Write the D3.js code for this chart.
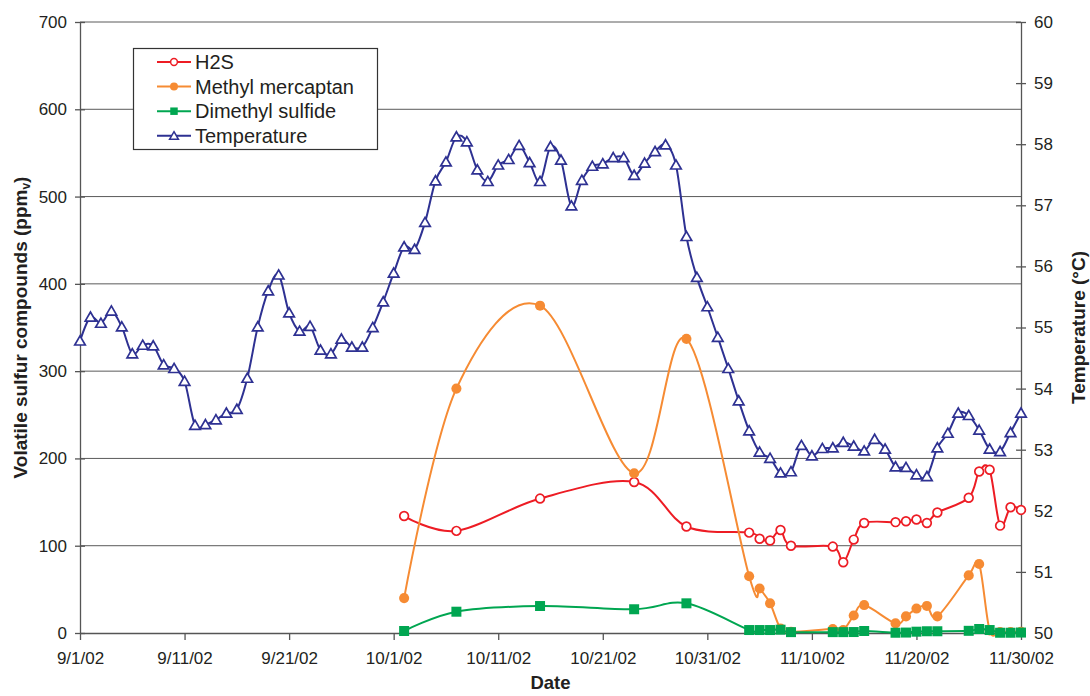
<!DOCTYPE html>
<html>
<head>
<meta charset="utf-8">
<script src="https://cdn.jsdelivr.net/npm/d3@7"></script>
<style>
  body { margin: 0; background: #fff; }
  svg { font-family: "Liberation Sans", Arial, Helvetica, sans-serif; }
</style>
</head>
<body>
<svg id="chart" width="1090" height="696"></svg>
<script>
// daily temperature readings, 9/1/02 .. 11/30/02 (°C)
const tempValues = [
  54.78, 55.17, 55.07, 55.27, 55.01, 54.57, 54.71, 54.70, 54.39, 54.33,
  54.12, 53.40, 53.41, 53.49, 53.60, 53.66, 54.17, 55.01, 55.60, 55.86,
  55.24, 54.94, 55.02, 54.63, 54.57, 54.81, 54.68, 54.68, 55.00, 55.42,
  55.89, 56.32, 56.28, 56.72, 57.40, 57.71, 58.12, 58.04, 57.58, 57.39,
  57.66, 57.75, 57.98, 57.70, 57.39, 57.96, 57.74, 56.99, 57.41, 57.64,
  57.68, 57.78, 57.78, 57.49, 57.69, 57.88, 57.99, 57.66, 56.49, 55.82,
  55.34, 54.84, 54.33, 53.80, 53.31, 52.96, 52.86, 52.62, 52.64, 53.07,
  52.90, 53.02, 53.03, 53.12, 53.06, 52.98, 53.17, 53.01, 52.72, 52.71,
  52.59, 52.56, 53.03, 53.27, 53.60, 53.56, 53.32, 53.01, 52.97, 53.28,
  53.60
];

// sampling dates for the sulfur compounds
const sampleDates = [
  "10/2/02", "10/7/02", "10/15/02", "10/24/02", "10/29/02",
  "11/4/02", "11/5/02", "11/6/02", "11/7/02", "11/8/02",
  "11/12/02", "11/13/02", "11/14/02", "11/15/02",
  "11/18/02", "11/19/02", "11/20/02", "11/21/02", "11/22/02",
  "11/25/02", "11/26/02", "11/27/02", "11/28/02", "11/29/02", "11/30/02"
];
const h2s = [
  134, 117, 154, 173, 122,
  115, 108, 106, 118, 100,
  99, 81, 107, 126,
  127, 128, 130, 126, 138,
  155, 185, 187, 123, 144, 141
];
const methylMercaptan = [
  40, 280, 375, 183, 337,
  65, 51, 34, 5, 1.5,
  4.6, 3.4, 20, 32,
  11, 19, 28, 31, 19,
  66, 79, 3, 1, 1, 1.5
];
const dimethylSulfide = [
  2.3, 24.4, 30.9, 27.2, 34,
  3.4, 3.4, 3.4, 3.8, 1,
  1, 1, 1.1, 2.3,
  0.3, 0.5, 1.5, 2, 2,
  2.5, 4.6, 3.4, 0.3, 0.3, 0.5
];

const xTickLabels = ["9/1/02", "9/11/02", "9/21/02", "10/1/02", "10/11/02",
  "10/21/02", "10/31/02", "11/10/02", "11/20/02", "11/30/02"];
const leftTicks = [0, 100, 200, 300, 400, 500, 600, 700];
const rightTicks = [50, 51, 52, 53, 54, 55, 56, 57, 58, 59, 60];

const parseDate = d3.timeParse("%-m/%-d/%y");
const tempDates = d3.timeDay.range(new Date(2002, 8, 1), new Date(2002, 11, 1));

const plotLeft = 80, plotRight = 1021, plotTop = 22, plotBottom = 633;
const textColor = "#231f20";
const axisColor = "#555";

const svg = d3.select("#chart");

const xScale = d3.scaleTime()
  .domain([new Date(2002, 8, 1), new Date(2002, 10, 30)])
  .range([plotLeft, plotRight]);
const yLeft = d3.scaleLinear().domain([0, 700]).range([plotBottom, plotTop]);
const yRight = d3.scaleLinear().domain([50, 60]).range([plotBottom, plotTop]);

// gridlines
svg.append("g")
  .selectAll("line")
  .data(leftTicks.slice(1))
  .join("line")
  .attr("x1", plotLeft).attr("x2", plotRight)
  .attr("y1", d => yLeft(d)).attr("y2", d => yLeft(d))
  .attr("stroke", "#5a5a5a")
  .attr("stroke-width", 1);

// axes
function styleAxis(g) {
  g.select(".domain").attr("stroke", axisColor).attr("stroke-width", 1.3);
  g.selectAll(".tick line").attr("stroke", axisColor).attr("stroke-width", 1.3);
  g.selectAll(".tick text")
    .attr("fill", textColor)
    .attr("font-size", 17)
    .attr("font-family", "\"Liberation Sans\", Arial, sans-serif");
}

svg.append("g")
  .attr("transform", `translate(${plotLeft},0)`)
  .call(d3.axisLeft(yLeft).tickValues(leftTicks).tickSize(5).tickSizeOuter(0).tickPadding(8))
  .call(styleAxis)
  .call(g => g.selectAll(".tick line").attr("x1", 5));

svg.append("g")
  .attr("transform", `translate(${plotRight},0)`)
  .call(d3.axisRight(yRight).tickValues(rightTicks).tickSize(5).tickSizeOuter(0).tickPadding(8))
  .call(styleAxis)
  .call(g => g.selectAll(".tick line").attr("x1", -5));

svg.append("g")
  .attr("transform", `translate(0,${plotBottom})`)
  .call(d3.axisBottom(xScale)
    .tickValues(xTickLabels.map(parseDate))
    .tickFormat(d3.timeFormat("%-m/%-d/%y"))
    .tickSize(7).tickSizeOuter(0).tickPadding(12))
  .call(styleAxis);

// axis titles
const leftTitle = svg.append("text")
  .attr("transform", `translate(20,${(plotTop + plotBottom) / 2}) rotate(-90)`)
  .attr("text-anchor", "middle")
  .attr("dy", "0.35em")
  .attr("font-size", 19)
  .attr("font-weight", "bold")
  .attr("fill", textColor);
leftTitle.append("tspan").text("Volatile sulfur compounds (ppm");
leftTitle.append("tspan").attr("font-size", 12).attr("dy", 3).text("v");
leftTitle.append("tspan").attr("dy", -3).text(")");

svg.append("text")
  .attr("transform", `translate(1078,${(plotTop + plotBottom) / 2}) rotate(-90)`)
  .attr("text-anchor", "middle")
  .attr("dy", "0.35em")
  .attr("font-size", 19)
  .attr("font-weight", "bold")
  .attr("fill", textColor)
  .text("Temperature (°C)");

svg.append("text")
  .attr("x", (plotLeft + plotRight) / 2)
  .attr("y", 689)
  .attr("text-anchor", "middle")
  .attr("font-size", 18.5)
  .attr("font-weight", "bold")
  .attr("fill", textColor)
  .text("Date");

// series
const colors = { h2s: "#ed1c24", mm: "#f68b33", dms: "#00a651", temp: "#2e3192" };
const curve = d3.curveCardinal.tension(0);
const samples = sampleDates.map(parseDate);

function drawLine(dates, values, yScale, color) {
  const line = d3.line()
    .x((d, i) => xScale(dates[i]))
    .y(d => yScale(d))
    .curve(curve);
  svg.append("path")
    .attr("d", line(values))
    .attr("fill", "none")
    .attr("stroke", color)
    .attr("stroke-width", 2);
}

function drawMarkers(dates, values, yScale, type, color) {
  const g = svg.append("g");
  const sym = {
    circleOpen: d3.symbol(d3.symbolCircle, 60),
    circle: d3.symbol(d3.symbolCircle, 80),
    square: d3.symbol(d3.symbolSquare, 100),
    triangle: d3.symbol(d3.symbolTriangle, 48)
  }[type];
  const open = type === "circleOpen" || type === "triangle";
  g.selectAll("path")
    .data(values)
    .join("path")
    .attr("d", sym)
    .attr("transform", (d, i) => `translate(${xScale(dates[i])},${yScale(d) + (type === "triangle" ? 1 : 0)})`)
    .attr("fill", open ? "#fff" : color)
    .attr("stroke", color)
    .attr("stroke-width", open ? 1.7 : 0);
}

drawLine(samples, h2s, yLeft, colors.h2s);
drawMarkers(samples, h2s, yLeft, "circleOpen", colors.h2s);
drawLine(samples, methylMercaptan, yLeft, colors.mm);
drawMarkers(samples, methylMercaptan, yLeft, "circle", colors.mm);
drawLine(samples, dimethylSulfide, yLeft, colors.dms);
drawMarkers(samples, dimethylSulfide, yLeft, "square", colors.dms);
drawLine(tempDates, tempValues, yRight, colors.temp);
drawMarkers(tempDates, tempValues, yRight, "triangle", colors.temp);

// legend
const legendItems = [
  { name: "H2S", color: colors.h2s, type: "circleOpen" },
  { name: "Methyl mercaptan", color: colors.mm, type: "circle" },
  { name: "Dimethyl sulfide", color: colors.dms, type: "square" },
  { name: "Temperature", color: colors.temp, type: "triangle" }
];
const legend = svg.append("g");
legend.append("rect")
  .attr("x", 133.5).attr("y", 48.5)
  .attr("width", 244).attr("height", 101)
  .attr("fill", "#fff")
  .attr("stroke", "#333")
  .attr("stroke-width", 1.2);

const symSmall = {
  circleOpen: d3.symbol(d3.symbolCircle, 36),
  circle: d3.symbol(d3.symbolCircle, 50),
  square: d3.symbol(d3.symbolSquare, 56),
  triangle: d3.symbol(d3.symbolTriangle, 34)
};
legendItems.forEach((item, i) => {
  const cy = 62 + i * 24.6;
  const open = item.type === "circleOpen" || item.type === "triangle";
  legend.append("line")
    .attr("x1", 157).attr("x2", 191)
    .attr("y1", cy).attr("y2", cy)
    .attr("stroke", item.color).attr("stroke-width", 2);
  legend.append("path")
    .attr("d", symSmall[item.type])
    .attr("transform", `translate(174,${cy + (item.type === "triangle" ? 1 : 0)})`)
    .attr("fill", open ? "#fff" : item.color)
    .attr("stroke", item.color)
    .attr("stroke-width", open ? 1.5 : 0);
  legend.append("text")
    .attr("x", 195).attr("y", cy)
    .attr("dy", "0.36em")
    .attr("font-size", 20)
    .attr("fill", textColor)
    .text(item.name);
});
</script>
</body>
</html>
